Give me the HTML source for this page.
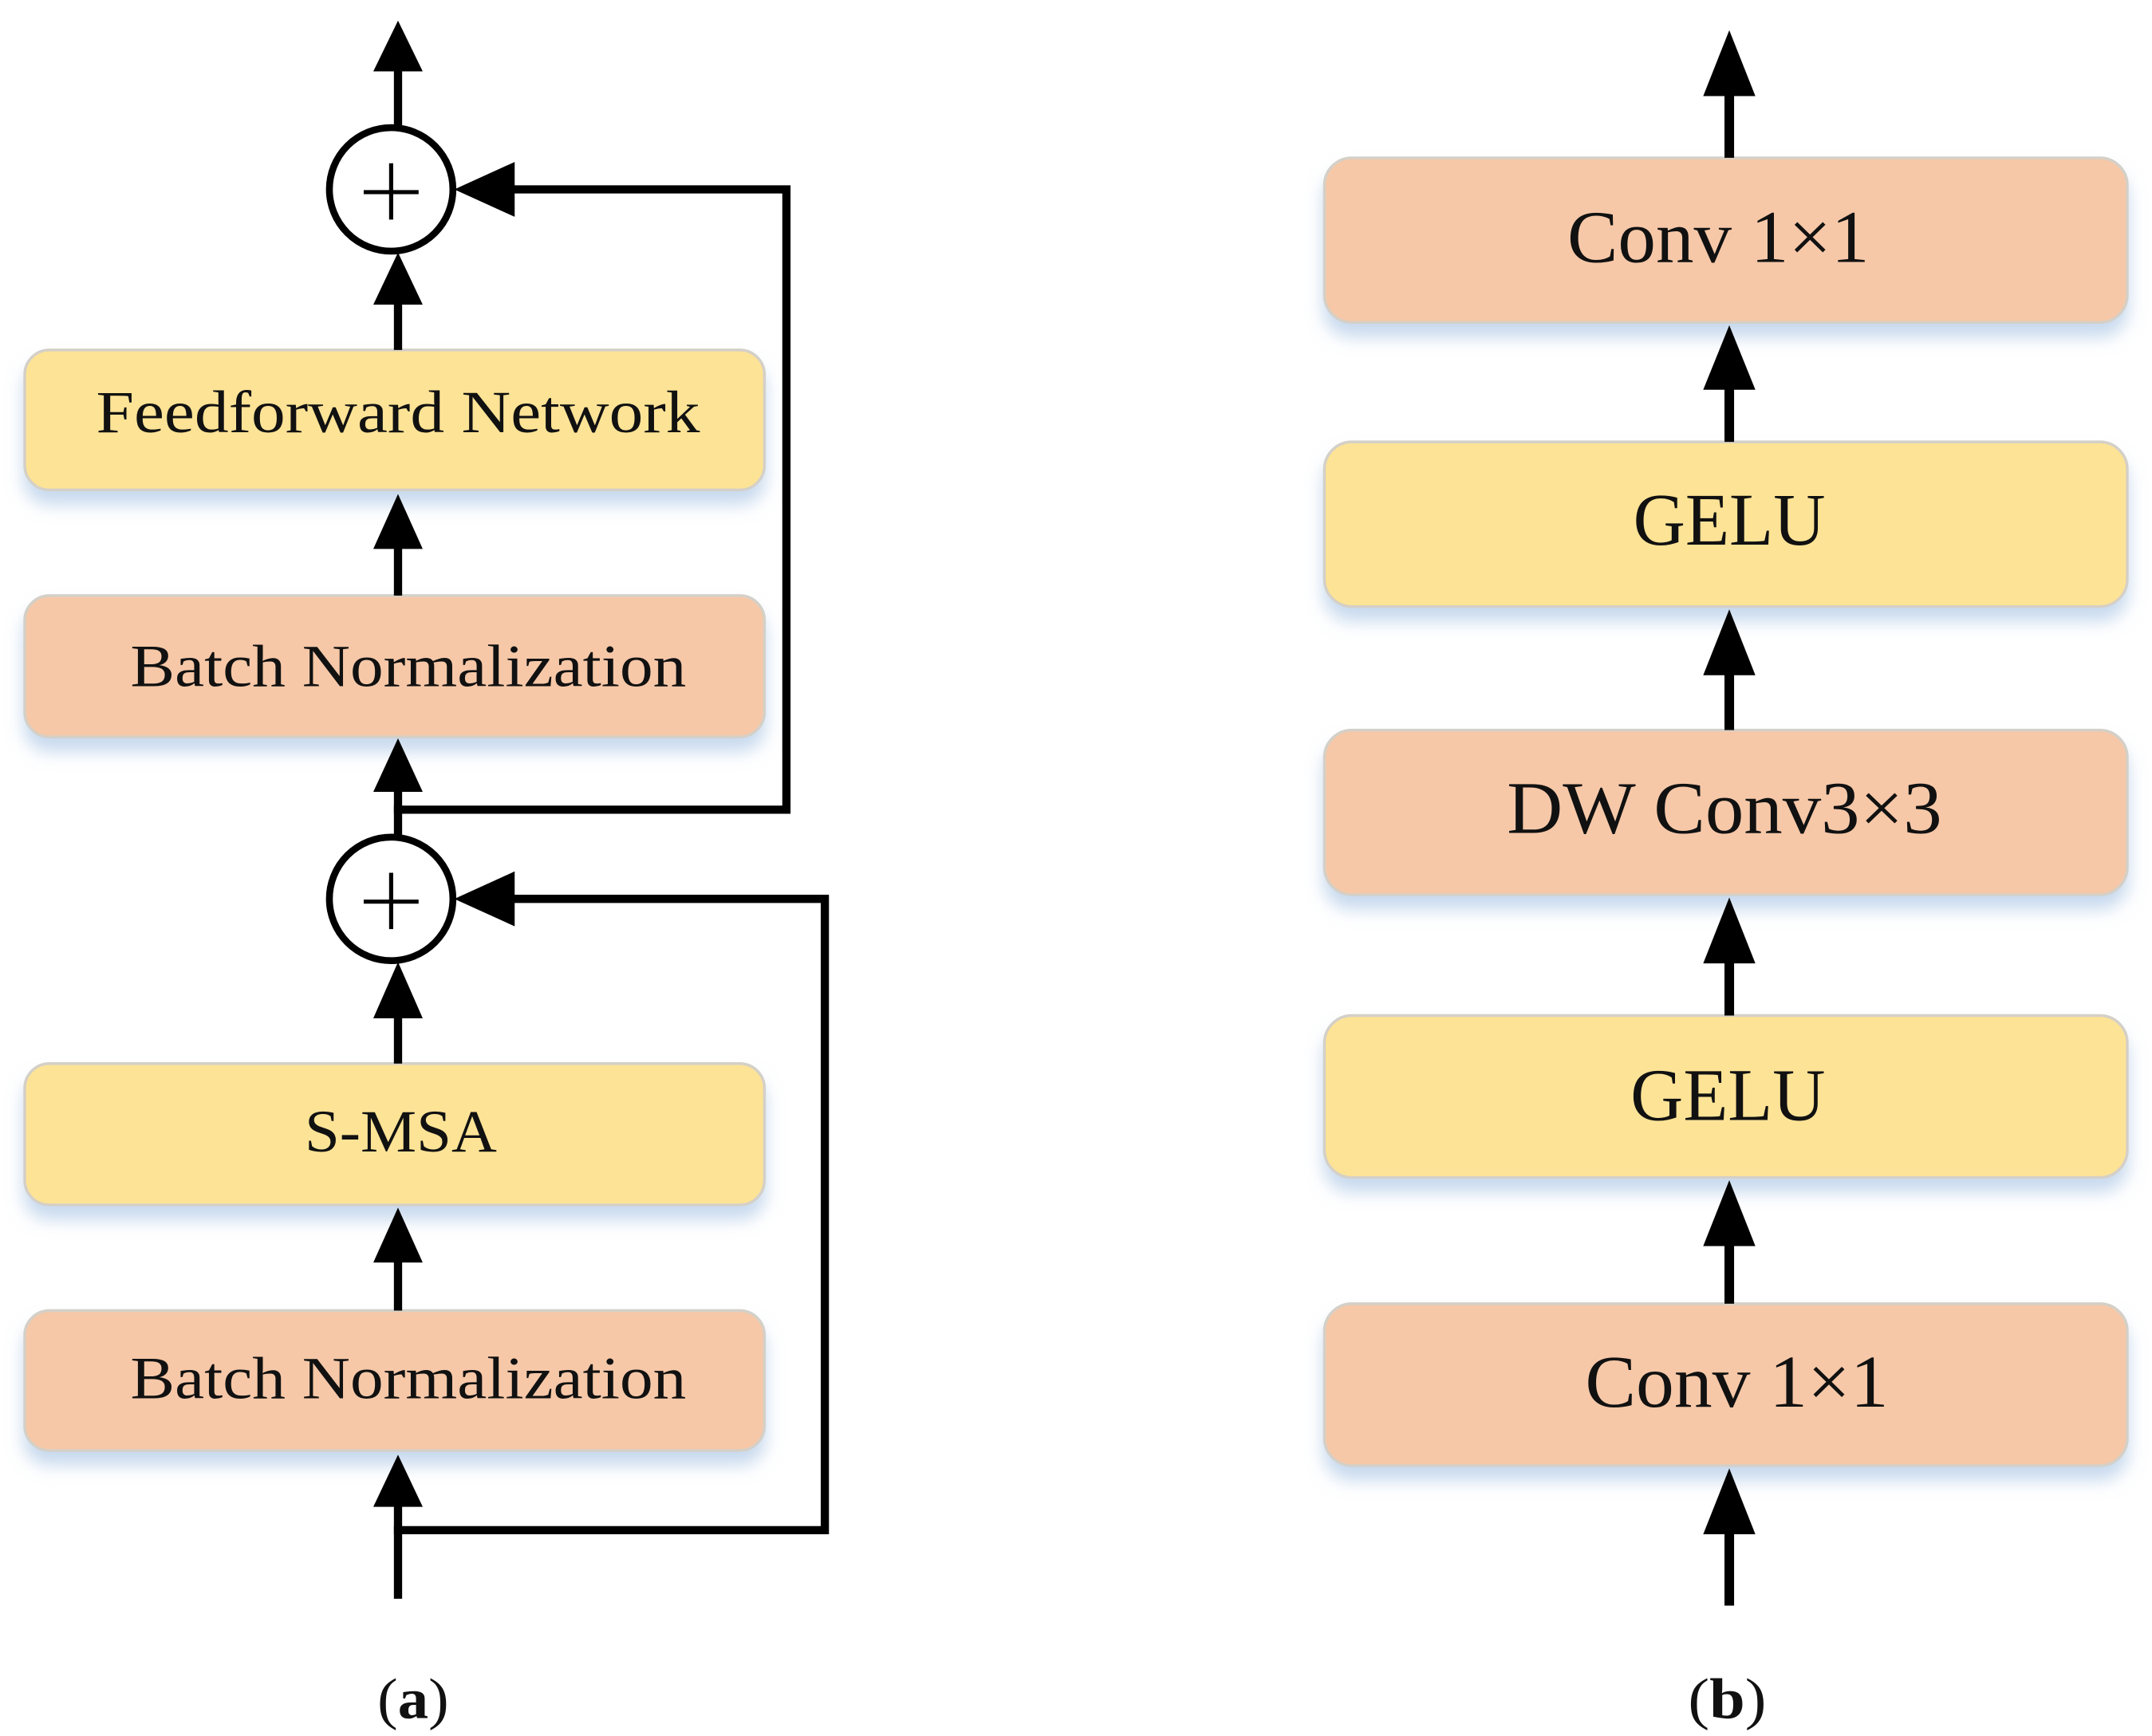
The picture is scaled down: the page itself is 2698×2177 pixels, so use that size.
<!DOCTYPE html>
<html><head><meta charset="utf-8"><style>
html,body{margin:0;padding:0;background:#fff;}
svg{display:block;}
text{font-family:"Liberation Serif",serif;fill:#111;}
</style></head><body>
<svg width="2698" height="2177" viewBox="0 0 1568 1265" preserveAspectRatio="none" xmlns="http://www.w3.org/2000/svg">
<defs>
<filter id="sh" x="-10%" y="-20%" width="120%" height="160%">
<feGaussianBlur in="SourceAlpha" stdDeviation="6"/>
<feOffset dy="10" result="b"/>
<feFlood flood-color="#9bbbe0" flood-opacity="0.55"/>
<feComposite in2="b" operator="in"/>
<feMerge><feMergeNode/><feMergeNode in="SourceGraphic"/></feMerge>
</filter>
</defs>
<rect width="1568" height="1265" fill="#fff"/>
<g filter="url(#sh)" stroke="#d4d0c8" stroke-width="2">
<rect x="18" y="255" width="539" height="102" rx="18" fill="#fde396"/>
<rect x="18" y="434" width="539" height="103" rx="18" fill="#f6c8a8"/>
<rect x="18" y="775" width="539" height="103" rx="18" fill="#fde396"/>
<rect x="18" y="955" width="539" height="102" rx="18" fill="#f6c8a8"/>
<rect x="965" y="115" width="585" height="120" rx="20" fill="#f6c8a8"/>
<rect x="965" y="322" width="585" height="120" rx="20" fill="#fde396"/>
<rect x="965" y="532" width="585" height="120" rx="20" fill="#f6c8a8"/>
<rect x="965" y="740" width="585" height="118" rx="20" fill="#fde396"/>
<rect x="965" y="950" width="585" height="118" rx="20" fill="#f6c8a8"/>
</g>
<g font-size="44" lengthAdjust="spacingAndGlyphs">
<text x="70" y="315" textLength="440" lengthAdjust="spacingAndGlyphs">Feedforward Network</text>
<text x="95" y="500" textLength="405" lengthAdjust="spacingAndGlyphs">Batch Normalization</text>
<text x="222" y="839" textLength="140" lengthAdjust="spacingAndGlyphs">S-MSA</text>
<text x="95" y="1019" textLength="405" lengthAdjust="spacingAndGlyphs">Batch Normalization</text>
</g>
<g font-size="54">
<text x="1142" y="191" textLength="220" lengthAdjust="spacingAndGlyphs">Conv 1×1</text>
<text x="1190" y="397" textLength="140" lengthAdjust="spacingAndGlyphs">GELU</text>
<text x="1098" y="607" textLength="317" lengthAdjust="spacingAndGlyphs">DW Conv3×3</text>
<text x="1188" y="816" textLength="142" lengthAdjust="spacingAndGlyphs">GELU</text>
<text x="1155" y="1025" textLength="221" lengthAdjust="spacingAndGlyphs">Conv 1×1</text>
</g>
<g stroke="#000" stroke-width="6" fill="none">
<line x1="290" y1="50" x2="290" y2="92"/>
<line x1="290" y1="220" x2="290" y2="255"/>
<line x1="290" y1="398" x2="290" y2="434"/>
<line x1="290" y1="575" x2="290" y2="609"/>
<polyline points="287,590 573,590 573,138 370,138"/>
<line x1="290" y1="740" x2="290" y2="775"/>
<line x1="290" y1="918" x2="290" y2="955"/>
<line x1="290" y1="1095" x2="290" y2="1165"/>
<polyline points="287,1115 601,1115 601,655 370,655"/>
<circle cx="285" cy="138" r="45" stroke-width="5"/>
<circle cx="285" cy="655" r="45" stroke-width="5"/>
<line x1="265" y1="140" x2="305" y2="140" stroke-width="3"/>
<line x1="285" y1="119" x2="285" y2="160" stroke-width="3"/>
<line x1="265" y1="657" x2="305" y2="657" stroke-width="3"/>
<line x1="285" y1="636" x2="285" y2="677" stroke-width="3"/>
</g>
<g fill="#000">
<polygon points="290,15 272,52 308,52"/>
<polygon points="290,184 272,222 308,222"/>
<polygon points="290,360 272,400 308,400"/>
<polygon points="290,538 272,577 308,577"/>
<polygon points="331,138 375,118 375,158"/>
<polygon points="290,701 272,742 308,742"/>
<polygon points="290,880 272,920 308,920"/>
<polygon points="290,1060 272,1098 308,1098"/>
<polygon points="331,655 375,635 375,675"/>
</g>
<g stroke="#000" stroke-width="7">
<line x1="1260" y1="60" x2="1260" y2="115"/>
<line x1="1260" y1="280" x2="1260" y2="322"/>
<line x1="1260" y1="488" x2="1260" y2="532"/>
<line x1="1260" y1="698" x2="1260" y2="740"/>
<line x1="1260" y1="905" x2="1260" y2="950"/>
<line x1="1260" y1="1115" x2="1260" y2="1170"/>
</g>
<g fill="#000">
<polygon points="1260,22 1241,70 1279,70"/>
<polygon points="1260,237 1241,284 1279,284"/>
<polygon points="1260,444 1241,492 1279,492"/>
<polygon points="1260,654 1241,702 1279,702"/>
<polygon points="1260,860 1241,908 1279,908"/>
<polygon points="1260,1070 1241,1118 1279,1118"/>
</g>
<text x="275" y="1252" font-size="42" textLength="52" lengthAdjust="spacingAndGlyphs">(<tspan font-weight="bold">a</tspan>)</text>
<text x="1230" y="1252" font-size="42" textLength="57" lengthAdjust="spacingAndGlyphs">(<tspan font-weight="bold">b</tspan>)</text>
</svg>
</body></html>
